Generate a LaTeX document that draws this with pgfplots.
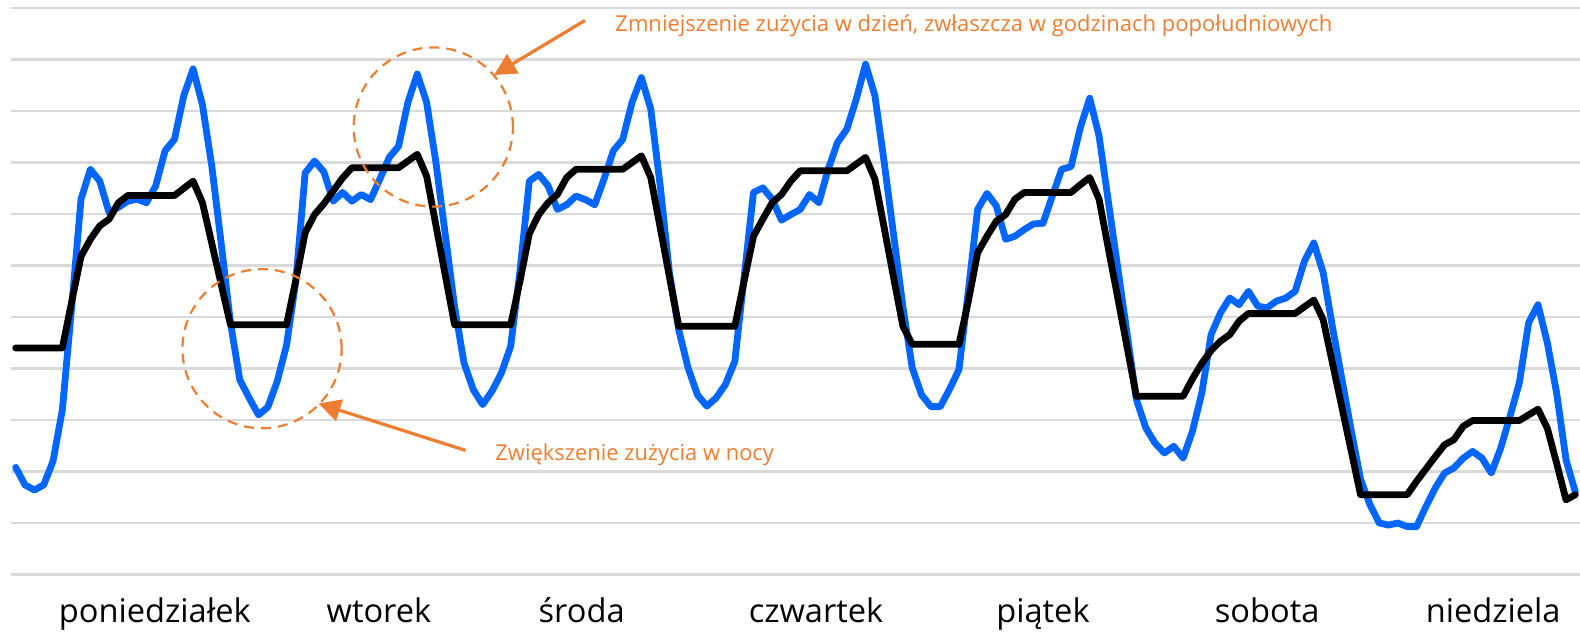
\documentclass[border=0pt]{standalone}
\usepackage{fontspec}
\setmainfont{Open Sans}
\usepackage{pgfplots}
\usepackage{pgfplotstable}
\pgfplotsset{compat=1.18}
\usetikzlibrary{arrows.meta}
\definecolor{lineblue}{RGB}{0,102,255}
\definecolor{annor}{RGB}{237,125,49}
\definecolor{gridgray}{RGB}{217,217,217}

\pgfplotstableread{
h before after
0 2.08 4.40
1 1.74 4.40
2 1.64 4.40
3 1.74 4.40
4 2.20 4.40
5 3.20 4.40
6 5.20 5.30
7 7.29 6.18
8 7.87 6.51
9 7.64 6.77
10 7.03 6.90
11 7.13 7.22
12 7.25 7.36
13 7.29 7.36
14 7.22 7.36
15 7.55 7.36
16 8.23 7.36
17 8.45 7.36
18 9.30 7.50
19 9.82 7.64
20 9.12 7.22
21 7.93 6.43
22 6.44 5.64
23 4.89 4.85
24 3.78 4.85
25 3.43 4.85
26 3.10 4.85
27 3.25 4.85
28 3.75 4.85
29 4.45 4.85
30 5.70 5.72
31 7.80 6.64
32 8.03 6.99
33 7.82 7.20
34 7.25 7.45
35 7.42 7.70
36 7.25 7.90
37 7.38 7.90
38 7.28 7.90
39 7.68 7.90
40 8.10 7.90
41 8.32 7.90
42 9.17 8.03
43 9.72 8.16
44 9.17 7.74
45 8.00 6.78
46 6.60 5.81
47 5.20 4.85
48 4.11 4.85
49 3.59 4.85
50 3.30 4.85
51 3.56 4.85
52 3.91 4.85
53 4.43 4.85
54 5.90 5.70
55 7.64 6.62
56 7.77 6.99
57 7.55 7.22
58 7.09 7.38
59 7.18 7.71
60 7.35 7.87
61 7.28 7.87
62 7.18 7.87
63 7.68 7.87
64 8.23 7.87
65 8.45 7.87
66 9.17 8.00
67 9.65 8.13
68 9.04 7.71
69 7.57 6.75
70 5.86 5.78
71 4.75 4.82
72 4.01 4.82
73 3.49 4.82
74 3.27 4.82
75 3.43 4.82
76 3.69 4.82
77 4.14 4.82
78 5.78 5.70
79 7.42 6.57
80 7.51 6.90
81 7.29 7.22
82 6.88 7.38
83 6.99 7.64
84 7.09 7.84
85 7.38 7.84
86 7.22 7.84
87 7.87 7.84
88 8.39 7.84
89 8.65 7.84
90 9.23 7.97
91 9.91 8.10
92 9.30 7.68
93 8.00 6.73
94 6.60 5.77
95 5.20 4.82
96 4.01 4.47
97 3.49 4.47
98 3.26 4.47
99 3.26 4.47
100 3.60 4.47
101 3.98 4.47
102 5.50 5.30
103 7.09 6.25
104 7.40 6.57
105 7.16 6.86
106 6.51 6.99
107 6.57 7.29
108 6.70 7.42
109 6.81 7.42
110 6.82 7.42
111 7.35 7.42
112 7.87 7.42
113 7.92 7.42
114 8.68 7.57
115 9.25 7.71
116 8.52 7.29
117 7.24 6.33
118 5.96 5.38
119 4.68 4.42
120 3.40 3.46
121 2.85 3.46
122 2.55 3.46
123 2.36 3.46
124 2.49 3.46
125 2.26 3.46
126 2.78 3.80
127 3.52 4.10
128 4.66 4.35
129 5.08 4.53
130 5.37 4.66
131 5.24 4.92
132 5.50 5.07
133 5.21 5.07
134 5.18 5.07
135 5.31 5.07
136 5.37 5.07
137 5.50 5.07
138 6.09 5.20
139 6.44 5.33
140 5.86 4.95
141 4.80 4.10
142 3.80 3.25
143 2.80 2.40
144 1.85 1.55
145 1.36 1.55
146 1.00 1.55
147 0.96 1.55
148 1.00 1.55
149 0.93 1.55
150 0.93 1.81
151 1.32 2.05
152 1.68 2.29
153 1.97 2.52
154 2.07 2.62
155 2.26 2.88
156 2.39 2.99
157 2.26 2.99
158 1.97 2.99
159 2.45 2.99
160 3.07 2.99
161 3.72 2.99
162 4.89 3.10
163 5.24 3.21
164 4.50 2.84
165 3.52 2.16
166 2.23 1.45
167 1.60 1.55
}\loadtable

\begin{document}
\begin{tikzpicture}
\path[use as bounding box] (-5.5bp,-29.25bp) rectangle (784.5bp,287.25bp);
\begin{axis}[
  at={(0,0)}, anchor=south west,
  scale only axis,
  width=784.5bp, height=283.2bp,
  xmin=-0.5, xmax=167.5,
  ymin=0, ymax=11,
  axis line style={draw=none},
  major tick length=0pt,
  ytick={0,1,...,11},
  yticklabels={},
  ymajorgrids,
  grid style={gridgray, line width=1.1bp},
  xtick={14.9,38.9,60.6,85.7,110.0,134.0,158.2},
  xticklabels={poniedziałek,wtorek,środa,czwartek,piątek,sobota,niedziela},
  xticklabel style={font=\fontsize{16.3bp}{19bp}\selectfont, anchor=base, yshift=-24.2bp, inner sep=0pt},
  clip=false,
]
\addplot[lineblue, line width=3.4bp, line join=round, line cap=round, no marks] table[x=h, y=before] {\loadtable};
\addplot[black, line width=3.4bp, line join=round, line cap=round, no marks] table[x=h, y=after] {\loadtable};

\draw[annor, line width=1.1bp, dash pattern=on 5bp off 3.5bp] (axis cs:44.72,8.69) circle[radius=39.8bp];
\draw[annor, line width=1.1bp, dash pattern=on 5bp off 3.5bp] (axis cs:26.38,4.385) circle[radius=39.8bp];
\draw[annor, line width=1.6bp, -{Triangle[length=11bp,width=11bp]}] (axis cs:60.96,10.76) -- (axis cs:51.22,9.70);
\draw[annor, line width=1.6bp, -{Triangle[length=11bp,width=11bp]}] (axis cs:48.17,2.41) -- (axis cs:32.43,3.32);
\node[anchor=base west, text=annor, inner sep=0pt, font=\fontsize{11bp}{13bp}\selectfont] at (axis cs:64.18,10.54) {Zmniejszenie zużycia w dzień, zwłaszcza w godzinach popołudniowych};
\node[anchor=base west, text=annor, inner sep=0pt, font=\fontsize{10.95bp}{13bp}\selectfont] at (axis cs:51.33,2.22) {Zwiększenie zużycia w nocy};
\end{axis}
\end{tikzpicture}
\end{document}
